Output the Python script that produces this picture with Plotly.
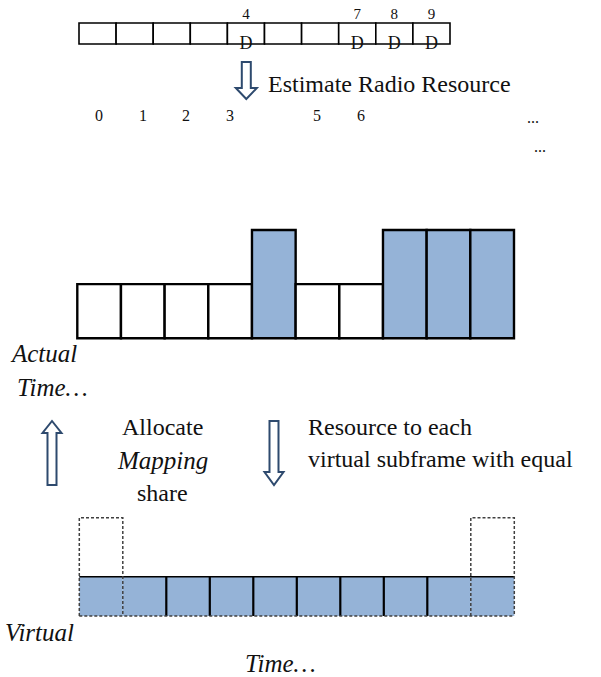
import plotly.graph_objects as go

# ---------------- data ----------------
subframes = [0, 1, 2, 3, 4, 5, 6, 7, 8, 9]
strip_cells = [1, 1, 1, 1, 1, 1, 1, 1, 1, 1]
d_subframes = [4, 7, 8, 9]
d_labels = ["4", "7", "8", "9"]
d_marks = ["D", "D", "D", "D"]
other_subframes = [0, 1, 2, 3, 5, 6]
other_labels = ["0", "1", "2", "3", "5", "6"]
actual_resource = [1, 1, 1, 1, 2, 1, 1, 2, 2, 2]
virtual_share = [0.4, 0.4, 0.4, 0.4, 0.4, 0.4, 0.4, 0.4, 0.4, 0.4]
overflow_subframes = [0, 9]
overflow_level = 1.0

W, H = 601, 677
BLUE = "#95B3D7"
NAVY = "#2E4A6E"
FONT = "Liberation Serif"


def xdom(L, R, lo, hi, rlo, rhi):
    s = (R - L) / (hi - lo)
    return [(L + (rlo - lo) * s) / W, (L + (rhi - lo) * s) / W]


def ydom(B, T, lo, hi, rlo, rhi):
    s = (B - T) / (hi - lo)
    return [1 - (B - (rlo - lo) * s) / H, 1 - (B - (rhi - lo) * s) / H]


fig = go.Figure()

# ---- top strip (x / y) ----
fig.add_trace(go.Bar(x=subframes, y=strip_cells, width=1, marker=dict(color="white", line=dict(color="black", width=1.6)),
                     xaxis="x", yaxis="y", cliponaxis=False, hoverinfo="skip"))
fig.add_trace(go.Scatter(x=d_subframes, y=[-0.02] * len(d_subframes), mode="text", text=d_marks,
                         textfont=dict(family=FONT, size=18, color="#111"), xaxis="x", yaxis="y",
                         cliponaxis=False, hoverinfo="skip"))
fig.add_trace(go.Scatter(x=d_subframes, y=[1.38] * len(d_subframes), mode="text", text=d_labels,
                         textfont=dict(family=FONT, size=15, color="#111"), xaxis="x", yaxis="y",
                         cliponaxis=False, hoverinfo="skip"))

# ---- actual time bars (x2 / y2) ----
fig.add_trace(go.Bar(x=subframes, y=actual_resource, width=1,
                     marker=dict(color=["white" if v == 1 else BLUE for v in actual_resource],
                                 line=dict(color="black", width=2.4)),
                     xaxis="x2", yaxis="y2", cliponaxis=False, hoverinfo="skip"))

# ---- virtual time bars (x3 / y3) ----
fig.add_trace(go.Bar(x=subframes, y=virtual_share, width=1, marker=dict(color=BLUE, line=dict(width=0)),
                     xaxis="x3", yaxis="y3", cliponaxis=False, hoverinfo="skip"))
n = len(subframes)
lo_x = subframes[0] - 0.5
hi_x = subframes[-1] + 0.5
# solid top edge
fig.add_trace(go.Scatter(x=[lo_x, hi_x], y=[virtual_share[0], virtual_share[-1]], mode="lines",
                         line=dict(color="black", width=1.6), xaxis="x3", yaxis="y3", hoverinfo="skip"))
# solid dividers between cells not adjacent to overflow boxes
dx, dy = [], []
for i in range(n - 1):
    b = subframes[i] + 0.5
    if subframes[i] in overflow_subframes or subframes[i + 1] in overflow_subframes:
        continue
    dx += [b, b, None]
    dy += [0, virtual_share[i], None]
fig.add_trace(go.Scatter(x=dx, y=dy, mode="lines", line=dict(color="black", width=2.2),
                         xaxis="x3", yaxis="y3", hoverinfo="skip"))
# dashed bottom edge and overflow boxes
bx, by = [lo_x, hi_x, None], [0, 0, None]
for s in overflow_subframes:
    bx += [s - 0.5, s - 0.5, s + 0.5, s + 0.5, None]
    by += [0, overflow_level, overflow_level, 0, None]
fig.add_trace(go.Scatter(x=bx, y=by, mode="lines", line=dict(color="#404040", width=1.5, dash="3px,2px"),
                         xaxis="x3", yaxis="y3", hoverinfo="skip"))

ax = dict(visible=False, showgrid=False, zeroline=False, fixedrange=True)
pad = 0.2
fig.update_layout(
    width=W, height=H, margin=dict(l=0, r=0, t=0, b=0),
    paper_bgcolor="white", plot_bgcolor="rgba(0,0,0,0)", showlegend=False, barmode="overlay",
    xaxis=dict(ax, range=[-0.5 - pad, 9.5 + pad], domain=xdom(79, 450, -0.5, 9.5, -0.5 - pad, 9.5 + pad), anchor="y"),
    yaxis=dict(ax, range=[-0.6, 2.0], domain=ydom(44, 23, 0, 1, -0.6, 2.0), anchor="x"),
    xaxis2=dict(ax, range=[-0.5 - pad, 9.5 + pad], domain=xdom(77.3, 514, -0.5, 9.5, -0.5 - pad, 9.5 + pad), anchor="y2"),
    yaxis2=dict(ax, range=[-0.1, 2.1], domain=ydom(338.3, 230, 0, 2, -0.1, 2.1), anchor="x2"),
    xaxis3=dict(ax, range=[-0.5 - pad, 9.5 + pad], domain=xdom(79.3, 514.3, -0.5, 9.5, -0.5 - pad, 9.5 + pad), anchor="y3"),
    yaxis3=dict(ax, range=[-0.1, 1.1], domain=ydom(616, 517.7, 0, 1, -0.1, 1.1), anchor="x3"),
)


def P(x, y):
    return x / W, 1 - y / H


def arrow(xc, shaft_w, head_w, y_tail, y_head_base, y_tip):
    xs0, xs1 = xc - shaft_w / 2, xc + shaft_w / 2
    xh0, xh1 = xc - head_w / 2, xc + head_w / 2
    pts = [(xs0, y_tail), (xs1, y_tail), (xs1, y_head_base), (xh1, y_head_base), (xc, y_tip),
           (xh0, y_head_base), (xs0, y_head_base)]
    path = "M " + " L ".join("%.5f,%.5f" % P(x, y) for x, y in pts) + " Z"
    fig.add_shape(type="path", path=path, xref="paper", yref="paper",
                  line=dict(color=NAVY, width=2), fillcolor="white")


arrow(246.3, 9, 21, 62, 88, 99)       # estimate arrow (down)
arrow(52, 9, 19, 485, 433, 421)       # allocate arrow (up)
arrow(274, 9, 19, 421, 472, 485)      # resource arrow (down)


def text(x, y, s, size=24, xanchor="left", italic=False, xref="paper"):
    xx = x if xref != "paper" else x / W
    fig.add_annotation(x=xx, y=1 - y / H, xref=xref, yref="paper", text=("<i>%s</i>" % s) if italic else s,
                       showarrow=False, xanchor=xanchor, yanchor="middle",
                       font=dict(family=FONT, size=size, color="#111"))


text(266, 84, "Estimate Radio Resource")
for sf, lab in zip(other_subframes, other_labels):
    text(sf, 115, lab, size=16, xanchor="center", xref="x2")
text(533, 118, "...", size=16, xanchor="center")
text(540, 147, "...", size=16, xanchor="center")

text(8, 353, "Actual", size=25, italic=True)
text(15, 387, "Time…", size=25, italic=True)

text(162, 427, "Allocate", xanchor="center")
text(162, 460, "Mapping", size=25, xanchor="center", italic=True)
text(162, 493, "share", xanchor="center")
text(306, 427, "Resource to each")
text(306, 459, "virtual subframe with equal")

text(3, 632, "Virtual", size=25, italic=True)
text(243, 663, "Time…", size=25, italic=True)

fig.write_html("out.html", config={"displayModeBar": False},
               post_script="document.body.style.margin='0';document.body.style.padding='0';")
